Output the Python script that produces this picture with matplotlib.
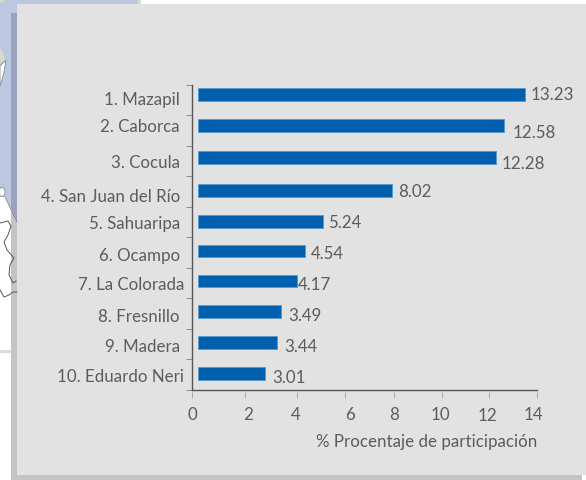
#!/usr/bin/env python3
"""Bar chart of municipalities, on a grey card that sits over a cropped map."""

import matplotlib
matplotlib.use("Agg")
import matplotlib.pyplot as plt
from matplotlib.patches import Polygon, Rectangle, Ellipse

# ----------------- data -----------------
municipios = ["1. Mazapil", "2. Caborca", "3. Cocula", "4. San Juan del Río", "5. Sahuaripa",
              "6. Ocampo", "7. La Colorada", "8. Fresnillo", "9. Madera", "10. Eduardo Neri"]
valores = ["13.23", "12.58", "12.28", "8.02", "5.24", "4.54", "4.17", "3.49", "3.44", "3.01"]
# where each bar stops, read against the x axis
bar_ends = [13.52, 12.65, 12.35, 8.10, 5.30, 4.59, 4.25, 3.60, 3.44, 2.95]
x_ticks = [0, 2, 4, 6, 8, 10, 12, 14]
x_label = "% Procentaje de participación"

# ----------------- style / layout (pixels) -----------------
W, H = 586, 480
AX_L, AX_R, AX_T, AX_B = 192.3, 537, 84.5, 390
BAR_START = 0.22
bar_nudge = [-5.1, -4.9, -3.5, -1.1, -0.7, -1.3, -1.9, -2.0, -1.6, -1.2]
cat_xy = [(180, 99.5), (180, 127.5), (180, 163.5), (180, 196.5), (180, 224.5),
          (180, 255.5), (184, 285.5), (180, 316.5), (180, 346.5), (184, 377.5)]
val_xy = [(531, 95), (513, 133), (502, 164), (398, 192), (328, 223),
          (311, 254), (298, 285), (288, 316), (284, 347), (272, 378)]
xtick_px = [192.3, 245, 296.5, 345, 394, 441.5, 488.5, 537]
xlab_px = [192, 248, 296, 350, 394, 440, 487, 533]
xlab_py = [415, 415, 415, 415, 415, 415, 416, 415]
TEXT = "#5c5c5c"
FS = 12.2

plt.rcParams["font.family"] = ["Lato", "DejaVu Sans"]


def main():
    fig = plt.figure(figsize=(W / 100, H / 100), dpi=100, facecolor="white")

    # backdrop: everything that is not the chart, in pixel coords
    bg = fig.add_axes([0, 0, 1, 1], zorder=0)
    bg.set_xlim(0, W)
    bg.set_ylim(H, 0)
    bg.axis("off")

    blue = "#bcc8e2"
    bg.add_patch(Rectangle((0, 0), 138, 5, fc=blue, ec="none"))
    bg.add_patch(Rectangle((138, 0), 3, 5, fc="#dcdcd0", ec="none"))
    bg.add_patch(Polygon([(0, 0), (17, 0), (17, 222), (5, 197), (0, 197)], fc=blue, ec="none"))
    bg.add_patch(Polygon([(0, 0), (6, 0), (0, 4)], fc="#d9d9c8", ec="none"))
    bg.add_patch(Polygon([(0, 48), (3, 52), (5, 60), (0, 63)], fc="#d9d9c8", ec="none"))
    bg.add_patch(Polygon([(0, 66), (6, 60), (4, 72), (1, 83), (0, 86)], fc="white", ec="#8a8a8a", lw=0.6))
    bg.add_patch(Ellipse((2, 192), 6, 9, fc="white", ec="#8a8a8a", lw=0.6))
    bg.plot([5, 17], [197, 222], color="#8a8a8a", lw=0.6)
    bg.plot([0, 8, 11, 8, 4, 7, 14, 10, 9, 13, 16],
            [223, 221, 226, 235, 242, 250, 258, 265, 275, 283, 281],
            color="#555555", lw=0.7)
    bg.plot([0, 4, 9, 13, 17], [290, 297, 295, 292, 292], color="#555555", lw=0.7)
    bg.add_patch(Rectangle((0, 349.5), 17, 3, fc="#dcdccf", ec="none"))

    # card and its shadow
    bg.add_patch(Rectangle((11, 13), 6, 209, fc="#9aa3bd", ec="none"))
    bg.add_patch(Rectangle((11, 222), 6, 258, fc="#c4c4c4", ec="none"))
    bg.add_patch(Polygon([(11, 208), (17, 222), (11, 222)], fc="#c4c4c4", ec="none"))
    bg.add_patch(Rectangle((11, 475), 571, 5, fc="#c4c4c4", ec="none"))
    bg.add_patch(Rectangle((17, 4), W - 17, 471, fc="#e2e2e2", ec="none"))

    # the chart itself
    ax = fig.add_axes([AX_L / W, 1 - AX_B / H, (AX_R - AX_L) / W, (AX_B - AX_T) / H], zorder=1)
    ax.patch.set_alpha(0)
    ax.set_xlim(0, 14)
    ax.set_ylim(len(municipios), 0)
    unit = (AX_B - AX_T) / len(municipios)
    to_x = 14 / (AX_R - AX_L)

    for i, end in enumerate(bar_ends):
        ax.barh(i + 0.5 + bar_nudge[i] / unit, end - BAR_START, left=BAR_START, height=12.5 / unit,
                color="#0060ae", edgecolor="#5a9ad0", linewidth=0.7)

    for s in ("top", "right"):
        ax.spines[s].set_visible(False)
    ax.spines["left"].set_color("#555555")
    ax.spines["left"].set_linewidth(1.0)
    ax.spines["bottom"].set_visible(False)
    ax.spines["bottom"].set_position(("outward", 1.5))
    ax.axhline(len(municipios), color="#555555", lw=1.0, clip_on=False)

    ax.set_yticks(range(len(municipios) + 1))
    ax.set_yticklabels([])
    ax.tick_params(axis="y", length=4.5, width=0.7, color="#8c8c8c")
    ax.set_xticks([(p - AX_L) * to_x for p in xtick_px])
    ax.set_xticklabels([])
    ax.tick_params(axis="x", length=4.5, width=0.7, color="#a8a8a8")

    # text, placed by hand like the original
    for name, (x, y) in zip(municipios, cat_xy):
        bg.text(x, y, name, ha="right", va="center", fontsize=FS, color=TEXT)
    for val, (x, y) in zip(valores, val_xy):
        bg.text(x, y, val, ha="left", va="center", fontsize=FS, color=TEXT)
    for t, x, y in zip(x_ticks, xlab_px, xlab_py):
        bg.text(x, y, str(t), ha="center", va="center", fontsize=FS, color=TEXT)
    bg.text(537, 442, x_label, ha="right", va="center", fontsize=FS, color=TEXT)

    fig.savefig("out.png", dpi=100, facecolor=fig.get_facecolor())
    plt.close(fig)


if __name__ == "__main__":
    main()
